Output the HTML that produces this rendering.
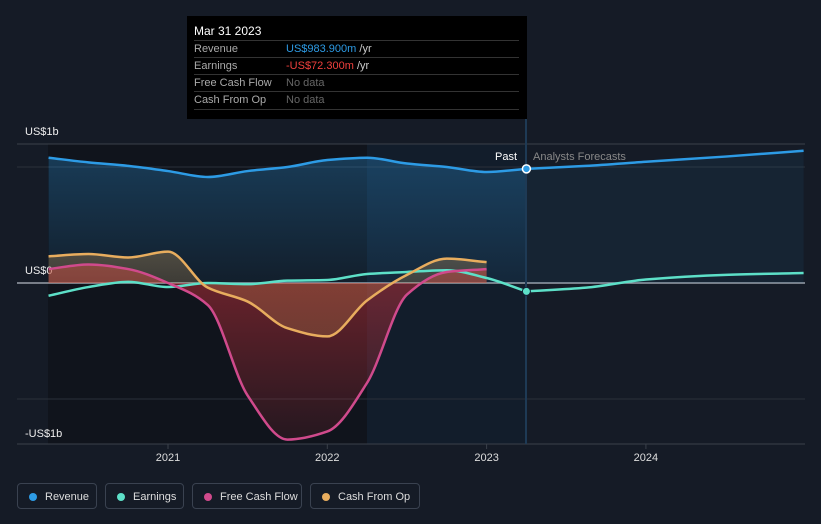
<!DOCTYPE html>
<html><head><meta charset="utf-8"><style>
body{margin:0;background:#151b26;font-family:"Liberation Sans",sans-serif;}
#wrap{position:relative;width:821px;height:524px;overflow:hidden;background:#151b26;}
svg{position:absolute;left:0;top:0}
.tt{position:absolute;left:187px;top:16px;width:340px;height:103px;background:#000;color:#fff;font-size:11px}
.tt .row{position:absolute;left:7px;width:325px;border-top:1px solid #333;height:17px;line-height:17px;color:#aaa}
.tt .v{position:absolute;left:92px}
.leg{position:absolute;top:483px;height:26px;border:1px solid #3a4250;border-radius:4px;color:#ddd;font-size:11px;line-height:26px;box-sizing:border-box;padding-left:27px}
.leg i{position:absolute;left:11px;top:9px;width:8px;height:8px;border-radius:50%}
</style></head><body>
<div id="wrap">
<svg id="chart" width="821" height="524"></svg>
<div class="tt">
<div style="position:absolute;left:7px;top:8px;font-size:12px">Mar 31 2023</div>
<div class="row" style="top:24px">Revenue<span class="v"><span style="color:#2d9be5">US$983.900m</span> <span style="color:#ccc">/yr</span></span></div>
<div class="row" style="top:41px">Earnings<span class="v"><span style="color:#f0403d">-US$72.300m</span> <span style="color:#ccc">/yr</span></span></div>
<div class="row" style="top:58px">Free Cash Flow<span class="v" style="color:#666">No data</span></div>
<div class="row" style="top:75px;border-bottom:1px solid #333">Cash From Op<span class="v" style="color:#666">No data</span></div>
</div>
<div class="leg" style="left:17px;width:80px"><i style="background:#2d9be5"></i>Revenue</div>
<div class="leg" style="left:105px;width:79px"><i style="background:#5de0c8"></i>Earnings</div>
<div class="leg" style="left:192px;width:110px"><i style="background:#d04a8c"></i>Free Cash Flow</div>
<div class="leg" style="left:310px;width:110px"><i style="background:#e8ad5e"></i>Cash From Op</div>
</div>
<script>
const pastDates=[2020.25,2020.5,2020.75,2021,2021.25,2021.5,2021.75,2022,2022.25,2022.5,2022.75,2023,2023.25];
const revenue=[1.08,1.04,1.01,0.965,0.914,0.965,1.0,1.06,1.08,1.03,1.0,0.957,0.984];
const earnings=[-0.11,-0.035,0.01,-0.035,0,-0.01,0.02,0.026,0.078,0.095,0.11,0.043,-0.072];
const fcfDates=[2020.25,2020.5,2020.75,2021,2021.25,2021.5,2021.75,2022,2022.25,2022.5,2022.75,2023];
const fcf=[0.12,0.16,0.12,0,-0.19,-0.97,-1.35,-1.28,-0.86,-0.10,0.095,0.12];
const cfo=[0.23,0.25,0.22,0.27,-0.04,-0.16,-0.39,-0.46,-0.15,0.07,0.21,0.18];
const fcDates=[2023.25,2023.625,2024,2024.5,2024.99];
const fcRevenue=[0.984,1.01,1.045,1.09,1.14];
const fcEarnings=[-0.072,-0.04,0.03,0.07,0.086];
const yTicks=[1,0,-1];const yLabels=["US$1b","US$0","-US$1b"];
const yLabelOffsets=[-32,-9,38];
const xTicks=[2021,2022,2023,2024];
const X=t=>168+(t-2021)*159.3;
const Y=v=>283-v*116;
const svg=document.getElementById('chart');const NS='http://www.w3.org/2000/svg';
function el(tag,attrs,parent){const e=document.createElementNS(NS,tag);for(const k in attrs)e.setAttribute(k,attrs[k]);(parent||svg).appendChild(e);return e;}
function path(xs,vs){const p=xs.map((t,i)=>[X(t),Y(vs[i])]);const n=p.length;const m=[];
for(let i=0;i<n;i++){let s;if(i==0)s=(p[1][1]-p[0][1])/(p[1][0]-p[0][0]);else if(i==n-1)s=(p[n-1][1]-p[n-2][1])/(p[n-1][0]-p[n-2][0]);else{const a=(p[i][1]-p[i-1][1])/(p[i][0]-p[i-1][0]),b=(p[i+1][1]-p[i][1])/(p[i+1][0]-p[i][0]);s=a*b<=0?0:2/(1/a+1/b);}m.push(s);}
let d='M'+p[0][0]+','+p[0][1];for(let i=0;i<n-1;i++){const h=(p[i+1][0]-p[i][0])/3;d+=' C'+(p[i][0]+h)+','+(p[i][1]+m[i]*h)+' '+(p[i+1][0]-h)+','+(p[i+1][1]-m[i+1]*h)+' '+p[i+1][0]+','+p[i+1][1];}return d;}
const defs=el('defs',{});
function grad(id,c,o1,o2,y1,y2){const g=el('linearGradient',{id:id,x1:0,y1:y1,x2:0,y2:y2,gradientUnits:'userSpaceOnUse'},defs);el('stop',{offset:0,'stop-color':c,'stop-opacity':o1},g);el('stop',{offset:1,'stop-color':c,'stop-opacity':o2},g);}
grad('gRev','#2d9be5',0.3,0.08,150,283);grad('gFcf','#c0303a',0.5,0.12,283,440);grad('gCfo','#e8ad5e',0.28,0.2,250,283);
el('rect',{x:48,y:144,width:319,height:300,fill:'#10141c',});
el('rect',{x:367,y:144,width:159,height:300,fill:'#121d2b',});
el('line',{x1:17,x2:805,y1:144,y2:144,stroke:'#3a404a',});
yTicks.forEach((v,i)=>{const l=el('line',{x1:17,x2:805,y1:Y(v),y2:Y(v),stroke:v==0?'#9aa0a8':'#2a303a','stroke-width':v==0?1.5:1});
const t=el('text',{x:25,y:Y(v)+yLabelOffsets[i],fill:'#eee','font-size':11});t.textContent=yLabels[i];});
el('line',{x1:17,x2:805,y1:444,y2:444,stroke:'#3a404a',});
xTicks.forEach(t=>{const l=el('line',{x1:X(t),x2:X(t),y1:444,y2:449,stroke:'#3a404a'});
const tx=el('text',{x:X(t),y:461,fill:'#ddd','font-size':11,'text-anchor':'middle'});tx.textContent=t;});
function area(xs,vs,fill,name){const d=path(xs,vs)+' L'+X(xs[xs.length-1])+','+Y(0)+' L'+X(xs[0])+','+Y(0)+'Z';const a=el('path',{d:d,fill:fill});}
function line(xs,vs,c,name){const a=el('path',{d:path(xs,vs),fill:'none',stroke:c,'stroke-width':2.5});}
area(pastDates,revenue,'url(#gRev)','revenue-area');
area(fcDates,fcRevenue,'rgba(45,155,229,0.07)','revenue-forecast-area');
area(fcfDates,fcf,'url(#gFcf)','fcf-area');
area(fcfDates,cfo,'url(#gCfo)','cfo-area');
line(pastDates,revenue,'#2d9be5','revenue-line');
line(fcDates,fcRevenue,'#2d9be5','revenue-forecast-line');
line(pastDates,earnings,'#5de0c8','earnings-line');
line(fcDates,fcEarnings,'#5de0c8','earnings-forecast-line');
line(fcfDates,fcf,'#d04a8c','fcf-line');
line(fcfDates,cfo,'#e8ad5e','cfo-line');
el('line',{x1:526,x2:526,y1:119,y2:444,stroke:'#1e3a55','stroke-width':2,});
const last=pastDates.length-1;
el('circle',{cx:X(pastDates[last]),cy:Y(revenue[last]),r:4,fill:'#2d9be5',stroke:'#fff','stroke-width':1.5,});
el('circle',{cx:X(pastDates[last]),cy:Y(earnings[last]),r:4,fill:'#5de0c8',stroke:'#132236','stroke-width':1,});
const p1=el('text',{x:517,y:160,fill:'#fff','font-size':11,'text-anchor':'end',});p1.textContent='Past';
const p2=el('text',{x:533,y:160,fill:'#888','font-size':11,});p2.textContent='Analysts Forecasts';
</script>
</body></html>
